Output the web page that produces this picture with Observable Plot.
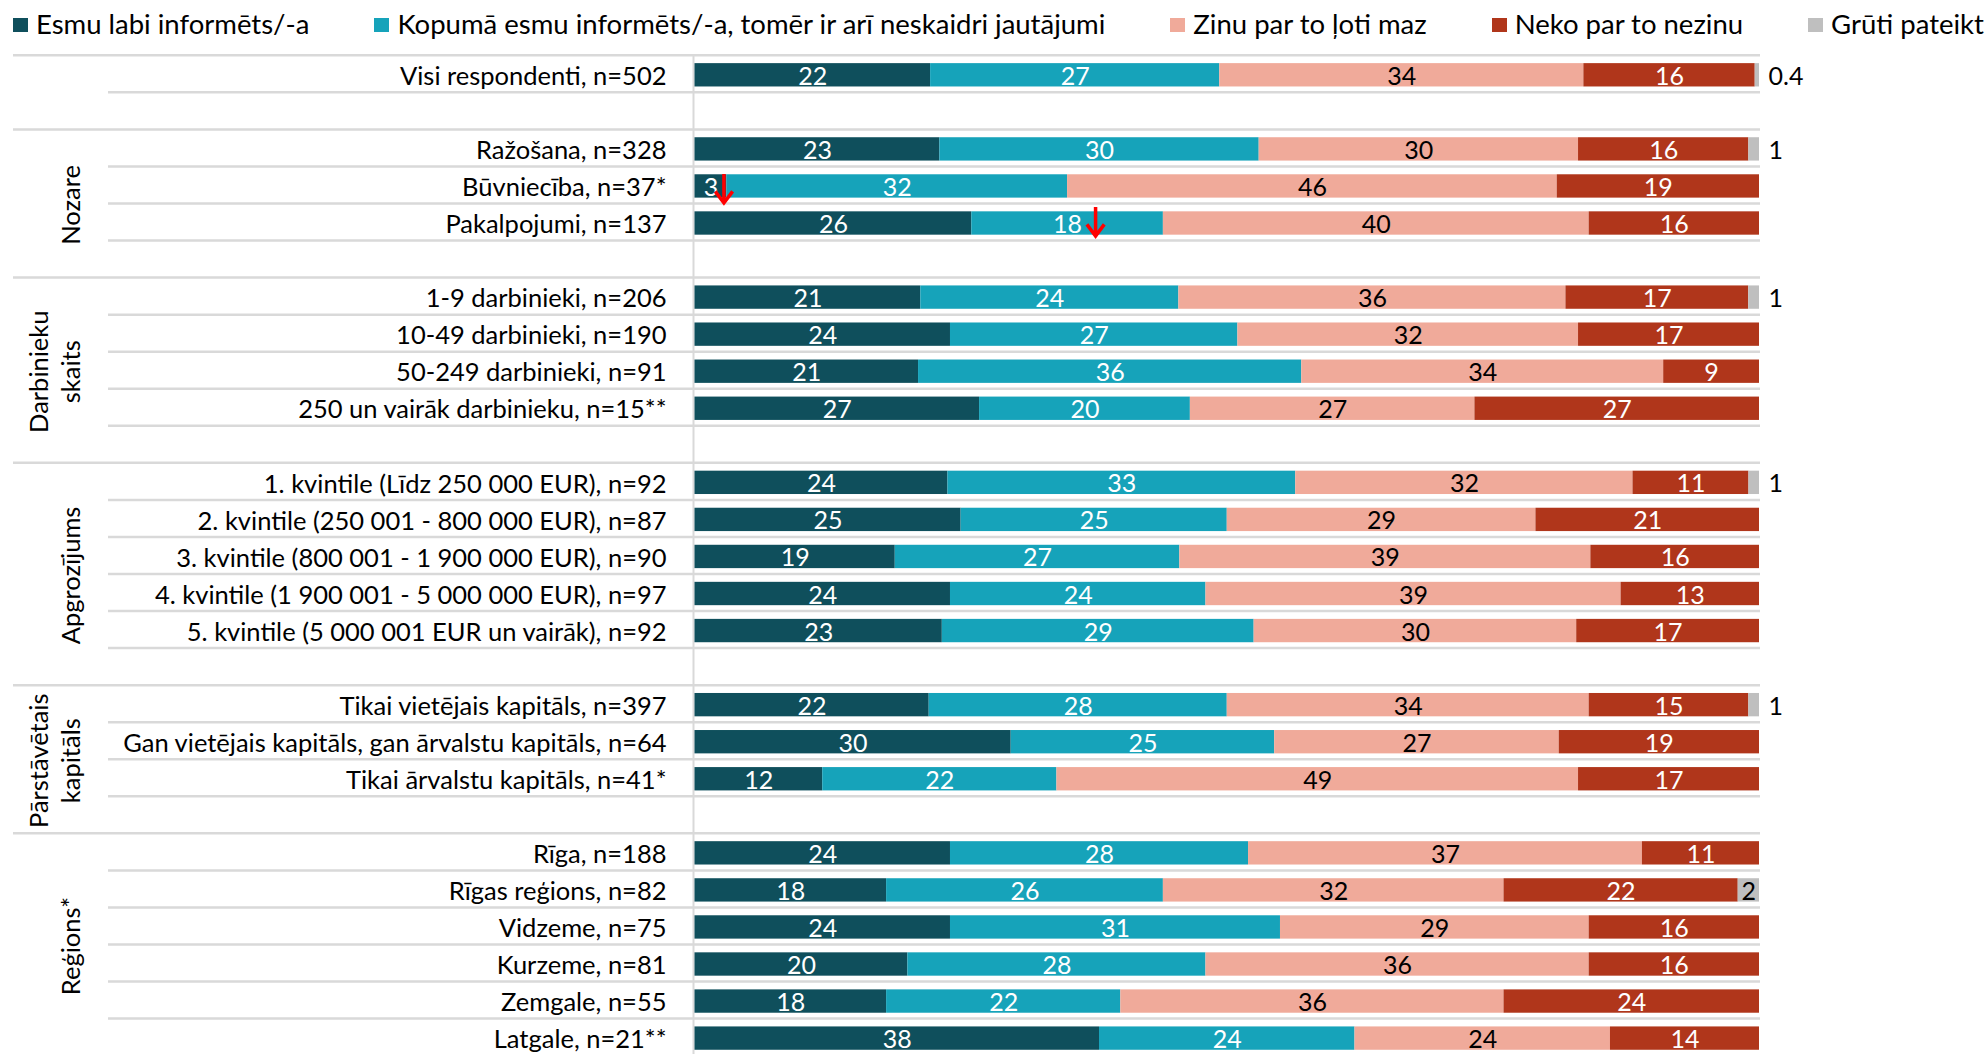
<!DOCTYPE html>
<html><head><meta charset="utf-8">
<script src="https://cdn.jsdelivr.net/npm/d3@7"></script>
<script src="https://cdn.jsdelivr.net/npm/@observablehq/plot@0.6"></script>
<style>
body{margin:0;background:#fff;font-family:Lato,sans-serif;}
#legend{height:46px;display:flex;align-items:center;padding-left:13px;white-space:nowrap;font-size:27.5px;color:#000;overflow:hidden;}
.item{display:flex;align-items:center;margin-right:65px;}
.sw{width:15px;height:14px;margin-right:8px;margin-top:3px;}
#chart svg{display:block;}
</style></head><body>
<div id="legend"></div><div id="chart"></div>
<script>
const seriesNames = ["Esmu labi informēts/-a", "Kopumā esmu informēts/-a, tomēr ir arī neskaidri jautājumi", "Zinu par to ļoti maz", "Neko par to nezinu", "Grūti pateikt"];
const seriesColors = ["#0f4f5c", "#16a3ba", "#f0aa9a", "#b0361b", "#bfbfbf"];
const labelColors = ["white", "white", "black", "white", "black"];

const groups = ["", "Nozare", "Darbinieku\nskaits", "Apgrozījums", "Pārstāvētais\nkapitāls", "Reģions*"];
const groupSizes = [1, 3, 4, 5, 3, 6];
const categories = [
  "Visi respondenti, n=502",
  "Ražošana, n=328", "Būvniecība, n=37*", "Pakalpojumi, n=137",
  "1-9 darbinieki, n=206", "10-49 darbinieki, n=190", "50-249 darbinieki, n=91", "250 un vairāk darbinieku, n=15**",
  "1. kvintile (Līdz 250 000 EUR), n=92", "2. kvintile (250 001 - 800 000 EUR), n=87", "3. kvintile (800 001 - 1 900 000 EUR), n=90", "4. kvintile (1 900 001 - 5 000 000 EUR), n=97", "5. kvintile (5 000 001 EUR un vairāk), n=92",
  "Tikai vietējais kapitāls, n=397", "Gan vietējais kapitāls, gan ārvalstu kapitāls, n=64", "Tikai ārvalstu kapitāls, n=41*",
  "Rīga, n=188", "Rīgas reģions, n=82", "Vidzeme, n=75", "Kurzeme, n=81", "Zemgale, n=55", "Latgale, n=21**"
];
const labi   = [22, 23, 3, 26, 21, 24, 21, 27, 24, 25, 19, 24, 23, 22, 30, 12, 24, 18, 24, 20, 18, 38];
const kopuma = [27, 30, 32, 18, 24, 27, 36, 20, 33, 25, 27, 24, 29, 28, 25, 22, 28, 26, 31, 28, 22, 24];
const maz    = [34, 30, 46, 40, 36, 32, 34, 27, 32, 29, 39, 39, 30, 34, 27, 49, 37, 32, 29, 36, 36, 24];
const nezinu = [16, 16, 19, 16, 17, 17, 9, 27, 11, 21, 16, 13, 17, 15, 19, 17, 11, 22, 16, 16, 24, 14];
const gruti  = [0.4, 1, 0, 0, 1, 0, 0, 0, 1, 0, 0, 0, 0, 1, 0, 0, 0, 2, 0, 0, 0, 0];
const arrowRows = ["Būvniecība, n=37*", "Pakalpojumi, n=137"];
const arrowSeries = [0, 1];

const seriesValues = [labi, kopuma, maz, nezinu, gruti];

// legend
const legend = document.getElementById("legend");
seriesNames.forEach((n, i) => {
  const it = document.createElement("div"); it.className = "item";
  const sw = document.createElement("span"); sw.className = "sw"; sw.style.background = seriesColors[i];
  const tx = document.createElement("span"); tx.textContent = n;
  it.appendChild(sw); it.appendChild(tx); legend.appendChild(it);
});

// layout rows into slots (one blank slot between groups)
const rows = [], groupInfo = [], longLines = [];
let slot = 0, idx = 0;
groups.forEach((g, gi) => {
  const first = slot;
  longLines.push({y: first - 0.5});
  for (let j = 0; j < groupSizes[gi]; j++) {
    rows.push({label: categories[idx], i: idx, slot, group: gi});
    slot++; idx++;
  }
  const last = slot - 1;
  const span = gi < groups.length - 1 ? last + 1 : last;
  if (g) groupInfo.push({text: g, y: (first + span) / 2});
  slot++;
});
const nSlots = slot - 2;

const segs = [];
rows.forEach(r => {
  const vals = seriesValues.map(s => s[r.i]);
  const total = d3.sum(vals);
  let acc = 0;
  vals.forEach((v, k) => {
    const x1 = acc / total * 100; acc += v; const x2 = acc / total * 100;
    if (v > 0) segs.push({slot: r.slot, label: r.label, k, series: seriesNames[k], value: v, x1, x2, xm: (x1 + x2) / 2});
  });
});
const inside = segs.filter(d => !(d.k === 4 && d.value < 2));
const outside = segs.filter(d => d.k === 4 && d.value < 2);
const arrows = arrowRows.map((r, j) => segs.find(d => d.label === r && d.k === arrowSeries[j]));

const arrowDown = {
  draw(ctx, size) {
    const r = Math.sqrt(size / Math.PI);
    ctx.moveTo(0, -r); ctx.lineTo(0, r);
    ctx.moveTo(-0.6 * r, 0.2 * r); ctx.lineTo(0, r); ctx.lineTo(0.6 * r, 0.2 * r);
  }
};

const H = 1008;
const chart = Plot.plot({
  width: 1985, height: H,
  marginLeft: 0, marginRight: 0, marginTop: 0, marginBottom: 0,
  x: {domain: [0, 100], range: [694.5, 1759], axis: null},
  y: {domain: [0, nSlots], range: [28.8, 28.8 + 37.05 * nSlots], axis: null},
  color: {domain: seriesNames, range: seriesColors},
  style: {fontFamily: "Lato, sans-serif", background: "white"},
  marks: [
    Plot.ruleY(rows, {y: d => d.slot + 0.5, stroke: "#d9d9d9", strokeWidth: 2.5, dy: -1.5, insetLeft: 108, insetRight: 225}),
    Plot.ruleY(longLines, {y: "y", stroke: "#d9d9d9", strokeWidth: 2.5, dy: -1.5, insetLeft: 13, insetRight: 225}),
    Plot.ruleX([0], {stroke: "#d9d9d9", strokeWidth: 2, dx: -1.5, insetTop: 8}),
    Plot.rect(segs, {x1: "x1", x2: "x2", y1: d => d.slot - 0.315, y2: d => d.slot + 0.315, fill: "series"}),
    Plot.text(inside, {x: "xm", y: "slot", text: d => String(d.value), fill: d => labelColors[d.k], fontSize: 25, dy: 1.5}),
    Plot.text(outside, {x: "x2", y: "slot", text: d => String(d.value), fill: "black", fontSize: 25, textAnchor: "start", dx: 9, dy: 1.5}),
    Plot.text(rows, {y: "slot", text: "label", frameAnchor: "left", dx: 666, textAnchor: "end", fontSize: 25.5, fill: "black", dy: 1.5}),
    Plot.text(groupInfo, {y: "y", text: "text", frameAnchor: "left", dx: 79, rotate: -90, textAnchor: "middle", lineAnchor: "bottom", lineHeight: 1.25, fontSize: 25.5, fill: "black"}),
    Plot.dot(arrows.slice(0, 1), {x: "x2", y: "slot", symbol: arrowDown, r: 14.5, stroke: "#ff0000", fill: "none", strokeWidth: 3.5, dx: -3, dy: 2}),
    Plot.dot(arrows.slice(1), {x: "xm", y: "slot", symbol: arrowDown, r: 14.5, stroke: "#ff0000", fill: "none", strokeWidth: 3.5, dx: 28, dy: -2})
  ]
});
document.getElementById("chart").appendChild(chart);
</script>
</body></html>
